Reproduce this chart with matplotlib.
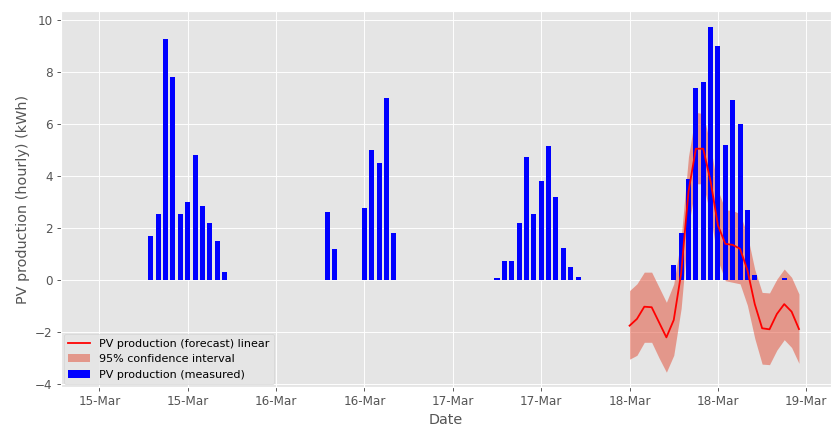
import matplotlib
matplotlib.use("Agg")
import matplotlib.pyplot as plt
import matplotlib.dates as mdates
import numpy as np
import pandas as pd

plt.style.use("ggplot")

# Measured hourly PV production (kWh), hours 0..23 for each day
day_starts = ["2021-03-15", "2021-03-16", "2021-03-17", "2021-03-18"]
measured_15 = [0, 0, 0, 0, 0, 0, 0, 1.71, 2.52, 9.28, 7.80, 2.52, 3.01, 4.79, 2.83, 2.21, 1.49, 0.32, 0, 0, 0, 0, 0, 0]
measured_16 = [0, 0, 0, 0, 0, 0, 0, 2.60, 1.21, 0, 0, 0, 2.78, 4.99, 4.49, 7.00, 1.79, 0, 0, 0, 0, 0, 0, 0]
measured_17 = [0, 0, 0, 0, 0, 0, 0.09, 0.72, 0.72, 2.21, 4.72, 2.52, 3.81, 5.14, 3.19, 1.22, 0.50, 0.10, 0, 0, 0, 0, 0, 0]
measured_18 = [0, 0, 0, 0, 0, 0, 0.58, 1.79, 3.89, 7.39, 7.62, 9.73, 9.01, 5.19, 6.92, 6.00, 2.69, 0.18, 0, 0, 0, 0.09, 0, 0]

# Forecast for 18-Mar (hourly)
forecast = [-1.76, -1.50, -1.03, -1.05, -1.63, -2.21, -1.54, 0.25, 3.40, 5.05, 5.05, 3.80, 2.10, 1.39, 1.35, 1.20,
            0.38, -0.93, -1.86, -1.90, -1.31, -0.93, -1.22, -1.89]
ci_upper = [-0.41, -0.15, 0.30, 0.30, -0.28, -0.86, -0.15, 1.60, 4.75, 6.45, 6.40, 5.15, 3.45, 2.70, 2.67, 2.55,
            1.72, 0.40, -0.48, -0.50, 0.03, 0.42, 0.10, -0.54]
ci_lower = [-3.05, -2.90, -2.40, -2.40, -3.00, -3.55, -2.90, -1.10, 2.05, 3.70, 3.70, 2.45, 0.75, -0.03, -0.09, -0.15,
            -0.98, -2.25, -3.24, -3.26, -2.70, -2.30, -2.60, -3.21]

measured = measured_15 + measured_16 + measured_17 + measured_18
times = pd.date_range(day_starts[0], periods=len(measured), freq="h")
fc_times = pd.date_range(day_starts[3], periods=len(forecast), freq="h")

W, H, DPI = 831, 428, 86
fig = plt.figure(figsize=(W / DPI, H / DPI), dpi=DPI)
ax = fig.add_axes([61 / W, (H - 387) / H, (W - 61) / W, (387 - 11) / H])

ax.plot(fc_times, forecast, color="red", lw=1.5, label="PV production (forecast) linear")
ax.fill_between(fc_times, ci_lower, ci_upper, color="#E24A33", alpha=0.5, lw=0,
                label="95% confidence interval")
ax.bar(times, measured, width=0.68 / 24, color="blue", label="PV production (measured)")

base = pd.Timestamp(day_starts[0])
ax.set_xlim(base - pd.Timedelta(hours=5.2), base + pd.Timedelta(hours=99.35))
ax.set_ylim(-4.12, 10.35)
ax.set_yticks(np.arange(-4, 11, 2))
ax.xaxis.set_major_locator(mdates.HourLocator(byhour=[0, 12]))
ax.xaxis.set_major_formatter(mdates.DateFormatter("%d-%b"))

ax.set_xlabel("Date", fontsize=12)
ax.set_ylabel("PV production (hourly) (kWh)", fontsize=12)
ax.tick_params(labelsize=10)
ax.legend(loc="lower left", fontsize=9.3, borderaxespad=0.25)

fig.savefig("out.png", dpi=DPI)
